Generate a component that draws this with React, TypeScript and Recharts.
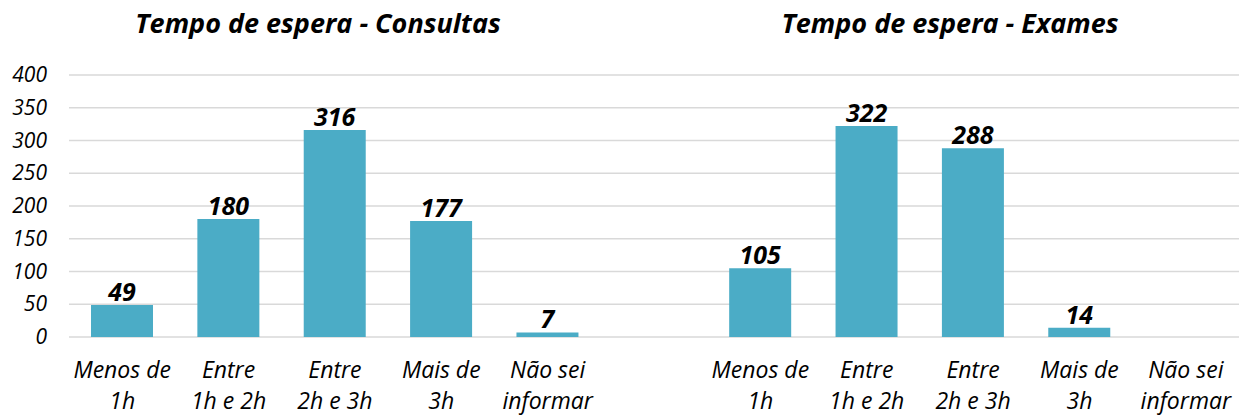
import React from "react";
import { BarChart, Bar, XAxis, YAxis, CartesianGrid, LabelList } from "recharts";

const categoryLines: string[][] = [
  ["Menos de", "1h"],
  ["Entre", "1h e 2h"],
  ["Entre", "2h e 3h"],
  ["Mais de", "3h"],
  ["Não sei", "informar"],
];
const consultas: (number | null)[] = [49, 180, 316, 177, 7];
const exames: (number | null)[] = [105, 322, 288, 14, null];
const yTicks = [0, 50, 100, 150, 200, 250, 300, 350, 400];
const titles = ["Tempo de espera - Consultas", "Tempo de espera - Exames"];

type Row = { key: string; lines: string[]; value: number | null };

const data: Row[] = [
  ...categoryLines.map((l, i) => ({ key: `c${i}`, lines: l, value: consultas[i] })),
  { key: "gap", lines: [], value: null },
  ...categoryLines.map((l, i) => ({ key: `e${i}`, lines: l, value: exames[i] })),
];

const FONT = "'Open Sans', sans-serif";
const BAR_COLOR = "#4BACC6";

const XTick = (props: any) => {
  const { x, y, payload } = props;
  const row = data.find((d) => d.key === payload.value);
  if (!row || row.lines.length === 0) return null;
  return (
    <text x={x} y={y} textAnchor="middle" fontFamily={FONT} fontStyle="italic" fontSize={23} fill="#000">
      <tspan x={x} dy={41}>{row.lines[0]}</tspan>
      <tspan x={x} dy={31}>{row.lines[1]}</tspan>
    </text>
  );
};

const YTick = (props: any) => {
  const { x, y, payload } = props;
  return (
    <text x={x - 22} y={y + 7} textAnchor="end" fontFamily={FONT} fontStyle="italic" fontSize={21} fill="#000">
      {payload.value}
    </text>
  );
};

const ValueLabel = (props: any) => {
  const { x, y, width, value } = props;
  if (value == null) return null;
  return (
    <text x={x + width / 2} y={y - 4} textAnchor="middle" fontFamily={FONT} fontStyle="italic" fontWeight="bold" fontSize={25} fill="#000">
      {value}
    </text>
  );
};

export default function App() {
  return (
    <div style={{ position: "absolute", left: 0, top: 0, width: 1244, height: 416, background: "#fff" }}>
      <BarChart
        width={1244}
        height={416}
        data={data}
        margin={{ top: 75, right: 5, bottom: 0, left: 9 }}
      >
        <CartesianGrid vertical={false} stroke="#D9D9D9" strokeWidth={1.5} />
        <XAxis
          dataKey="key"
          axisLine={false}
          tickLine={false}
          tickSize={0}
          tickMargin={0}
          height={79}
          interval={0}
          tick={<XTick />}
        />
        <YAxis
          width={60}
          domain={[0, 400]}
          ticks={yTicks}
          axisLine={false}
          tickLine={false}
          tickSize={0}
          tickMargin={0}
          tick={<YTick />}
        />
        <Bar dataKey="value" fill={BAR_COLOR} barSize={62} isAnimationActive={false}>
          <LabelList dataKey="value" content={<ValueLabel />} />
        </Bar>
      </BarChart>
      <svg width={1244} height={60} style={{ position: "absolute", left: 0, top: 0, pointerEvents: "none" }}>
        <text x={318} y={33} textAnchor="middle" fontFamily={FONT} fontStyle="italic" fontWeight="bold" fontSize={27} fill="#000">
          {titles[0]}
        </text>
        <text x={950} y={33} textAnchor="middle" fontFamily={FONT} fontStyle="italic" fontWeight="bold" fontSize={27} fill="#000">
          {titles[1]}
        </text>
      </svg>
    </div>
  );
}
